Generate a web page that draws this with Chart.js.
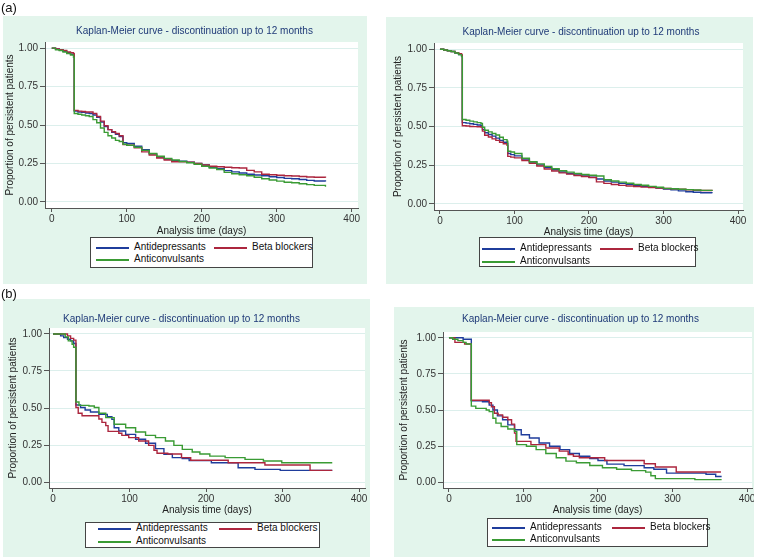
<!DOCTYPE html>
<html>
<head>
<meta charset="utf-8">
<script src="https://cdn.jsdelivr.net/npm/chart.js@4.4.1/dist/chart.umd.min.js"></script>
<style>
body { margin: 0; background: #fff; font-family: 'Liberation Sans', Arial, sans-serif; }
#page { position: relative; width: 762px; height: 557px; overflow: hidden; background: #fff; }
.tag { position: absolute; z-index: 3; font-size: 13px; line-height: 14px; color: #111; }
.panel { position: absolute; background: #e3f5ec; }
.panel canvas { position: absolute; left: 0; top: 0; }
.ttl { position: absolute; width: 320px; text-align: center; font-size: 10px; line-height: 12px; color: #1f3a78; white-space: nowrap; }
.legend { position: absolute; background: #fff; border: 1px solid #444; box-sizing: border-box; font-size: 10px; color: #111; }
.legend .key { position: absolute; height: 2px; width: 33px; }
.legend .lbl { position: absolute; line-height: 12px; white-space: nowrap; }
</style>
</head>
<body>
<div id="page">
  <div class="tag" style="left:1px;top:1px">(a)</div>
  <div class="tag" style="left:1px;top:287px">(b)</div>
</div>
<script>
const xTicks = [0, 100, 200, 300, 400];
const yTicks = [0, 0.25, 0.5, 0.75, 1];
const seriesNames = ['Antidepressants', 'Beta blockers', 'Anticonvulsants'];
const seriesColors = ['#1f3d9c', '#ac263e', '#3a9b34'];
const chartTitle = 'Kaplan-Meier curve - discontinuation up to 12 months';

// (a) left
const a1Days = [0,5,10,15,20,25,29,30,35,40,45,50,55,60,65,70,75,80,85,90,95,100,110,120,130,140,150,160,170,180,190,200,210,220,230,240,250,260,270,280,290,300,310,320,330,340,350,365];
const a1Antidep = [1.00,0.995,0.99,0.98,0.97,0.96,0.955,0.59,0.585,0.582,0.578,0.575,0.565,0.55,0.52,0.49,0.47,0.452,0.44,0.425,0.385,0.38,0.362,0.34,0.312,0.292,0.278,0.268,0.264,0.258,0.25,0.24,0.225,0.215,0.203,0.195,0.188,0.18,0.175,0.17,0.163,0.158,0.153,0.15,0.145,0.14,0.136,0.132];
const a1Beta = [1.00,0.995,0.99,0.985,0.975,0.97,0.964,0.595,0.59,0.588,0.585,0.585,0.575,0.555,0.525,0.495,0.47,0.456,0.445,0.43,0.372,0.368,0.352,0.325,0.305,0.285,0.272,0.261,0.26,0.258,0.25,0.24,0.232,0.228,0.225,0.222,0.22,0.205,0.195,0.18,0.176,0.173,0.17,0.168,0.165,0.162,0.16,0.157];
const a1Anticonv = [1.00,0.99,0.985,0.975,0.965,0.955,0.94,0.575,0.57,0.565,0.56,0.555,0.535,0.515,0.48,0.452,0.43,0.415,0.40,0.393,0.375,0.368,0.355,0.335,0.315,0.297,0.283,0.272,0.263,0.254,0.245,0.232,0.22,0.21,0.192,0.183,0.176,0.17,0.16,0.15,0.142,0.135,0.128,0.124,0.118,0.112,0.107,0.099];

// (a) right
const a2Days = [0,5,10,15,20,25,29,30,35,40,45,50,55,57,60,65,70,75,80,85,90,91,95,100,110,120,130,140,150,160,170,180,190,200,210,220,230,240,250,260,270,280,290,300,310,320,330,340,350,365];
const a2Antidep = [1.00,0.995,0.99,0.985,0.975,0.965,0.958,0.525,0.522,0.518,0.514,0.51,0.505,0.48,0.46,0.448,0.438,0.425,0.41,0.398,0.39,0.325,0.318,0.31,0.29,0.27,0.252,0.235,0.22,0.206,0.196,0.187,0.18,0.172,0.16,0.148,0.14,0.132,0.126,0.12,0.114,0.108,0.102,0.096,0.09,0.084,0.078,0.075,0.072,0.068];
const a2Beta = [1.00,0.995,0.99,0.985,0.978,0.97,0.963,0.505,0.503,0.5,0.499,0.498,0.497,0.47,0.443,0.432,0.42,0.41,0.398,0.388,0.378,0.307,0.302,0.297,0.28,0.262,0.245,0.225,0.212,0.2,0.192,0.183,0.177,0.17,0.142,0.132,0.125,0.119,0.115,0.112,0.108,0.105,0.102,0.099,0.097,0.094,0.091,0.088,0.086,0.083];
const a2Anticonv = [1.00,0.995,0.99,0.985,0.975,0.965,0.952,0.545,0.54,0.535,0.53,0.525,0.519,0.495,0.476,0.465,0.455,0.445,0.43,0.415,0.405,0.34,0.335,0.325,0.295,0.272,0.258,0.242,0.227,0.214,0.205,0.196,0.19,0.185,0.18,0.156,0.148,0.14,0.133,0.126,0.12,0.113,0.107,0.1,0.097,0.094,0.092,0.089,0.087,0.083];

// (b) left, each curve with its own step times
const b1AntidepDays = [0,10,14,19,23,27,30,36,42,49,60,71,77,80,86,95,108,121,134,145,156,169,178,207,242,264,297,365];
const b1AntidepSurv = [1.00,0.987,0.975,0.964,0.953,0.935,0.52,0.503,0.487,0.473,0.457,0.441,0.423,0.367,0.345,0.322,0.289,0.262,0.226,0.188,0.165,0.158,0.145,0.13,0.097,0.086,0.079,0.079];
const b1BetaDays = [0,19,23,27,30,33,38,60,64,69,72,86,90,99,112,125,132,136,150,168,180,229,277,336,365];
const b1BetaSurv = [1.00,0.987,0.97,0.958,0.503,0.465,0.448,0.426,0.403,0.381,0.342,0.33,0.315,0.3,0.277,0.248,0.215,0.195,0.19,0.165,0.147,0.13,0.115,0.079,0.079];
const b1AnticonvDays = [0,16,20,25,27,30,34,47,54,60,69,80,95,108,121,134,147,158,169,182,192,205,225,251,275,299,365];
const b1AnticonvSurv = [1.00,0.98,0.953,0.93,0.91,0.54,0.518,0.514,0.503,0.465,0.435,0.39,0.367,0.338,0.315,0.3,0.277,0.248,0.221,0.203,0.19,0.175,0.165,0.153,0.142,0.13,0.13];

// (b) right
const b2AntidepDays = [0,19,30,45,54,59,65,72,79,88,97,108,121,135,149,162,175,189,200,212,235,262,275,292,345,358,365];
const b2AntidepSurv = [1.00,0.99,0.564,0.557,0.534,0.5,0.459,0.432,0.397,0.363,0.329,0.306,0.272,0.249,0.226,0.199,0.18,0.164,0.15,0.125,0.115,0.1,0.09,0.063,0.055,0.04,0.035];
const b2BetaDays = [0,8,21,30,54,57,61,66,72,79,84,88,90,110,130,148,160,167,175,209,262,277,305,365];
const b2BetaSurv = [1.00,0.968,0.957,0.568,0.55,0.523,0.477,0.466,0.45,0.432,0.402,0.34,0.283,0.26,0.237,0.215,0.192,0.18,0.169,0.15,0.128,0.105,0.071,0.071];
const b2AnticonvDays = [0,5,12,19,23,30,36,50,54,59,63,70,79,88,91,104,117,130,144,157,171,189,206,225,245,264,271,277,330,365];
const b2AnticonvSurv = [1.00,0.99,0.98,0.968,0.957,0.527,0.511,0.5,0.489,0.443,0.409,0.386,0.368,0.352,0.26,0.249,0.226,0.199,0.169,0.146,0.135,0.116,0.1,0.09,0.08,0.07,0.045,0.025,0.018,0.013];

// layout of the four panels (page pixels)
const panels = [
  { bg: [3, 16, 364, 268], plot: [45, 42, 358, 208], xRange: [-9, 408.4], xH: 29, yTitlePad: 1,
    title: [194.5, 31], legend: { x: 90, y: 237, w: 223, h: 31, c1: 5, c2: 123, r1: 10, r2: 22 },
    series: [[a1Days, a1Antidep], [a1Days, a1Beta], [a1Days, a1Anticonv]] },
  { bg: [386, 17, 367, 267], plot: [434, 43, 743, 210], xRange: [-8, 406.7], xH: 28, yTitlePad: 6,
    title: [581, 32], legend: { x: 479, y: 237, w: 217, h: 30, c1: 2, c2: 120, r1: 11, r2: 24 },
    series: [[a2Days, a2Antidep], [a2Days, a2Beta], [a2Days, a2Anticonv]] },
  { bg: [3, 299, 367, 258], plot: [49, 328, 365, 488], xRange: [-5.2, 407.8], xH: 28, yTitlePad: 4,
    title: [181.5, 319], legend: { x: 85, y: 522, w: 235, h: 26, c1: 12, c2: 133, r1: 6, r2: 19 },
    series: [[b1AntidepDays, b1AntidepSurv], [b1BetaDays, b1BetaSurv], [b1AnticonvDays, b1AnticonvSurv]] },
  { bg: [394, 307, 360, 250], plot: [443, 332, 752, 488], xRange: [-8, 406.7], xH: 28, yTitlePad: 4,
    title: [580.5, 319], legend: { x: 487, y: 518, w: 221, h: 29, c1: 4, c2: 124, r1: 9, r2: 21 },
    series: [[b2AntidepDays, b2AntidepSurv], [b2BetaDays, b2BetaSurv], [b2AnticonvDays, b2AnticonvSurv]] }
];

Chart.defaults.font.family = "'Liberation Sans', Arial, sans-serif";
Chart.defaults.font.size = 10;

const page = document.getElementById('page');

// white plot region like Stata's plotregion
const plotBg = {
  id: 'plotBg',
  beforeDraw(chart) {
    const { ctx, chartArea: a } = chart;
    ctx.save();
    ctx.fillStyle = '#ffffff';
    ctx.fillRect(a.left, a.top, a.right - a.left, a.bottom - a.top);
    ctx.restore();
  }
};

function toPoints(days, surv) {
  return days.map((d, i) => ({ x: d, y: surv[i] }));
}

function place(el, x, y, w, h) {
  el.style.left = x + 'px';
  el.style.top = y + 'px';
  if (w != null) el.style.width = w + 'px';
  if (h != null) el.style.height = h + 'px';
}

function makeLegend(L) {
  const box = document.createElement('div');
  box.className = 'legend';
  place(box, L.x, L.y, L.w, L.h);
  const slots = [[L.c1, L.r1], [L.c2, L.r1], [L.c1, L.r2]];
  seriesNames.forEach((name, i) => {
    const key = document.createElement('div');
    key.className = 'key';
    key.style.backgroundColor = seriesColors[i];
    place(key, slots[i][0], slots[i][1] - 1);
    const lbl = document.createElement('div');
    lbl.className = 'lbl';
    lbl.textContent = name;
    place(lbl, slots[i][0] + 38, slots[i][1] - 7);
    box.appendChild(key);
    box.appendChild(lbl);
  });
  page.appendChild(box);
}

function makePanel(p) {
  const [bx, by, bw, bh] = p.bg;
  const [pl, pt, pr, pb] = p.plot;
  const wrap = document.createElement('div');
  wrap.className = 'panel';
  place(wrap, bx, by, bw, bh);
  const canvas = document.createElement('canvas');
  canvas.width = bw;
  canvas.height = bh;
  canvas.style.width = bw + 'px';
  canvas.style.height = bh + 'px';
  wrap.appendChild(canvas);
  page.appendChild(wrap);

  const ttl = document.createElement('div');
  ttl.className = 'ttl';
  ttl.textContent = chartTitle;
  place(ttl, p.title[0] - 160, p.title[1] - 6);
  page.appendChild(ttl);

  const yW = pl - bx;
  const xH = p.xH;

  new Chart(canvas.getContext('2d'), {
    type: 'line',
    data: {
      datasets: p.series.map((s, i) => ({
        label: seriesNames[i],
        data: toPoints(s[0], s[1]),
        borderColor: seriesColors[i],
        borderWidth: 1.4,
        pointRadius: 0,
        stepped: 'before',
        fill: false,
        order: 3 - i
      }))
    },
    options: {
      responsive: false,
      devicePixelRatio: 1,
      animation: false,
      layout: { padding: { left: 0, top: pt - by, right: bx + bw - pr, bottom: by + bh - pb - xH } },
      plugins: { legend: { display: false }, tooltip: { enabled: false }, title: { display: false } },
      scales: {
        x: {
          type: 'linear',
          min: p.xRange[0],
          max: p.xRange[1],
          afterBuildTicks: s => { s.ticks = xTicks.map(v => ({ value: v })); },
          afterFit: s => { s.height = xH; s.paddingLeft = 0; s.paddingRight = 0; },
          grid: { drawOnChartArea: false, tickLength: 4, tickColor: '#555' },
          border: { color: '#555', width: 1 },
          ticks: { padding: 1, color: '#333', maxRotation: 0, callback: v => String(v) },
          title: { display: true, text: 'Analysis time (days)', color: '#222', padding: { top: 0, bottom: 0 } }
        },
        y: {
          min: -0.04,
          max: 1.04,
          afterBuildTicks: s => { s.ticks = yTicks.map(v => ({ value: v })); },
          afterFit: s => { s.width = yW; s.paddingTop = 0; s.paddingBottom = 0; },
          grid: { color: '#dcefec', tickLength: 5, tickColor: '#555' },
          border: { color: '#555', width: 1 },
          ticks: { padding: 2, color: '#333', callback: v => Number(v).toFixed(2) },
          title: { display: true, text: 'Proportion of persistent patients', color: '#222', padding: { top: p.yTitlePad, bottom: 0 } }
        }
      }
    },
    plugins: [plotBg]
  });

  makeLegend(p.legend);
}

panels.forEach(makePanel);
</script>
</body>
</html>
